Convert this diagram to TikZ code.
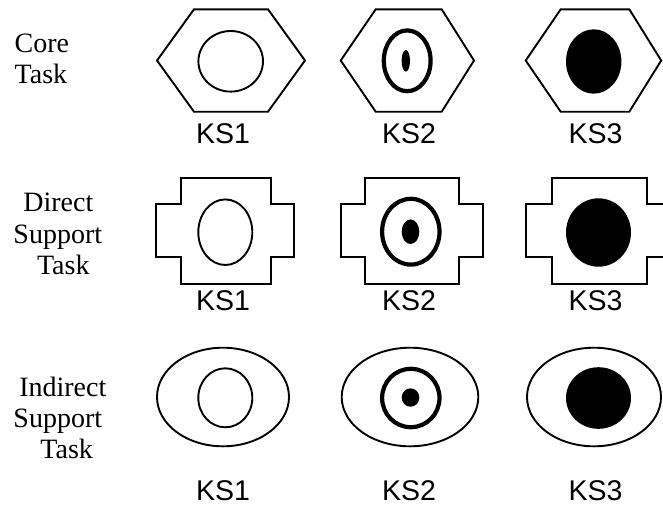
\documentclass[tikz,border=0pt]{standalone}
\usepackage{fontspec}
\setmainfont{Liberation Serif}
\newfontfamily\labelsans{Liberation Sans}
\begin{document}
\begin{tikzpicture}[x=1pt,y=-1pt,
  outline/.style={draw=black,line width=1.9pt,line join=miter},
  thinring/.style={draw=black,line width=1.9pt},
  thickring/.style={draw=black,line width=4.2pt},
  solid dot/.style={fill=black},
  rowname/.style={inner sep=0pt,anchor=base,font=\fontsize{28}{31}\selectfont},
  kslabel/.style={inner sep=0pt,anchor=base,font=\labelsans\fontsize{28.5}{32}\selectfont}]
\useasboundingbox (0,0) rectangle (663,507);
\clip (0,0) rectangle (663,507);

% row names
\node[rowname,anchor=base west] (coreA) at (14.5,52.3) {Core};
\node[rowname,anchor=base west] (coreB) at (14.5,83.3) {Task};
\node[rowname] (dirA) at (58.3,211.7) {Direct};
\node[rowname] (dirB) at (57.8,243) {Support};
\node[rowname] (dirC) at (63.3,274) {Task};
\node[rowname] (indA) at (62.8,396.7) {Indirect};
\node[rowname] (indB) at (57.8,427.5) {Support};
\node[rowname] (indC) at (66.7,458.3) {Task};

% core task: hexagons
\draw[outline] (157,60.5) -- (194,9.3) -- (268,9.3) -- (305,60.5) -- (268,111.7) -- (194,111.7) -- cycle;
\draw[outline] (340.7,60.5) -- (375.7,9.3) -- (441.7,9.3) -- (474,60.5) -- (441.7,111.7) -- (375.7,111.7) -- cycle;
\draw[outline] (525.7,60.5) -- (560.7,9.3) -- (629.3,9.3) -- (661.2,60.5) -- (629.3,111.7) -- (560.7,111.7) -- cycle;
\draw[thinring] (230.7,61.3) ellipse [x radius=32.3, y radius=30.3];
\draw[thickring] (407.2,60.8) ellipse [x radius=23.4, y radius=30.4];
\fill[solid dot] (405.8,60.8) ellipse [x radius=4.2, y radius=10.8];
\fill[solid dot] (593.7,61.5) ellipse [x radius=27.7, y radius=32.2];

% direct support task: stepped crosses
\draw[outline] (180.7,177.7) -- (270.7,177.7) -- (270.7,204) -- (294,204) -- (294,257.3) -- (270.7,257.3) -- (270.7,284.3) -- (180.7,284.3) -- (180.7,257.3) -- (156,257.3) -- (156,204) -- (180.7,204) -- cycle;
\draw[outline] (365,177.7) -- (459.3,177.7) -- (459.3,204) -- (482.7,204) -- (482.7,257.3) -- (459.3,257.3) -- (459.3,284.3) -- (365,284.3) -- (365,257.3) -- (340.7,257.3) -- (340.7,204) -- (365,204) -- cycle;
\draw[outline] (551.7,177.7) -- (647.3,177.7) -- (647.3,204) -- (673,204) -- (673,257.3) -- (647.3,257.3) -- (647.3,284.3) -- (551.7,284.3) -- (551.7,257.3) -- (525.7,257.3) -- (525.7,204) -- (551.7,204) -- cycle;
\draw[thinring] (225.3,232.2) ellipse [x radius=27, y radius=32.8];
\draw[thickring] (410.8,231.7) ellipse [x radius=28.7, y radius=32.9];
\fill[solid dot] (410.5,231.7) ellipse [x radius=8.8, y radius=12.3];
\fill[solid dot] (598.5,232.5) ellipse [x radius=32.5, y radius=34.2];

% indirect support task: ellipses
\draw[outline] (223,397) ellipse [x radius=66, y radius=49.3];
\draw[outline] (410,397) ellipse [x radius=68.3, y radius=49.3];
\draw[outline] (594,397) ellipse [x radius=67, y radius=49.3];
\draw[thinring] (225.3,397.8) ellipse [x radius=27, y radius=29.5];
\draw[thickring] (410.8,398) ellipse [x radius=28.7, y radius=29.2];
\fill[solid dot] (410.5,397.5) ellipse [x radius=8.8, y radius=9.2];
\fill[solid dot] (598.5,398) ellipse [x radius=32.5, y radius=30.8];

% knowledge state labels
\node[kslabel] (r1k1) at (223,143.8) {KS1};
\node[kslabel] (r1k2) at (409,143.8) {KS2};
\node[kslabel] (r1k3) at (595.5,143.8) {KS3};
\node[kslabel] (r2k1) at (223,310.7) {KS1};
\node[kslabel] (r2k2) at (409,310.7) {KS2};
\node[kslabel] (r2k3) at (595.5,310.7) {KS3};
\node[kslabel] (r3k1) at (223,500) {KS1};
\node[kslabel] (r3k2) at (409,500) {KS2};
\node[kslabel] (r3k3) at (595.5,500) {KS3};
\end{tikzpicture}
\end{document}
